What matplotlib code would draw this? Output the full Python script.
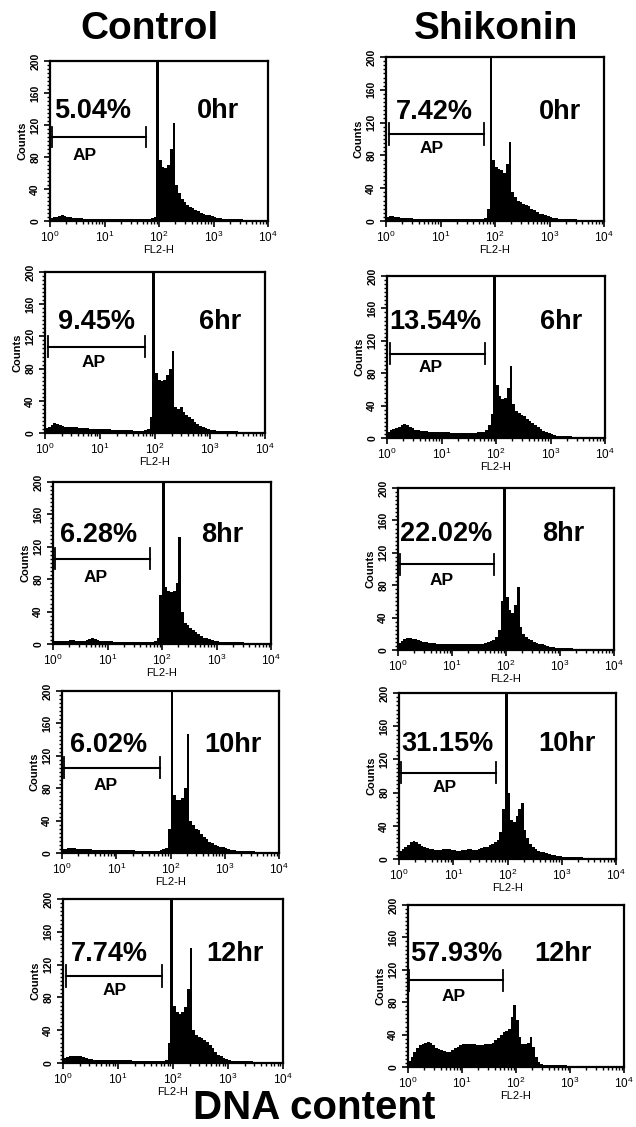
import numpy as np
import matplotlib
matplotlib.use("Agg")
import matplotlib.pyplot as plt
from matplotlib.ticker import MultipleLocator, FixedLocator, NullFormatter

plt.rcParams['font.family'] = ['Liberation Sans', 'DejaVu Sans']
plt.rcParams['mathtext.default'] = 'regular'

# ---------------- data ----------------
column_titles = ["Control", "Shikonin"]
time_labels = ["0hr", "6hr", "8hr", "10hr", "12hr"]
control_pct = ["5.04%", "9.45%", "6.28%", "6.02%", "7.74%"]
shikonin_pct = ["7.42%", "13.54%", "22.02%", "31.15%", "57.93%"]

# histogram channels: 80 bins, 0.05 decade each, from 10^0 to 10^4 (counts per bin)
ctrl_0hr = [4,5,5,6,7,6,5,5,4,4,4,4,3,3,3,3,3,3,3,3,
            3,3,3,3,3,3,3,3,3,3,3,3,3,3,3,3,3,4,5,250,
            76,68,66,70,90,122,45,35,28,24,20,18,16,14,12,10,9,8,7,6,
            5,4,4,3,3,3,2,2,2,2,2,1,1,1,1,1,1,1,1,1]
ctrl_6hr = [6,8,10,12,11,10,9,8,8,7,7,7,6,6,6,6,5,5,5,5,
            5,5,5,5,4,4,4,4,4,4,4,4,3,3,3,3,4,5,20,240,
            75,66,64,66,72,80,102,32,30,32,26,22,20,17,14,11,9,7,6,5,
            4,4,3,3,3,2,2,2,2,2,1,1,1,1,1,1,1,1,1,1]
ctrl_8hr = [4,4,4,4,4,4,5,5,4,4,4,4,5,6,7,6,5,4,4,4,
            4,4,3,3,3,3,3,3,3,3,3,3,3,3,3,3,3,4,8,60,
            235,70,66,64,66,75,132,40,26,24,20,17,15,12,10,8,7,6,5,4,
            4,3,3,3,3,2,2,2,2,2,1,1,1,1,1,1,1,1,1,1]
ctrl_10hr = [5,5,6,6,6,5,5,5,5,5,5,4,4,4,4,4,4,4,4,4,
             4,4,4,4,4,4,4,3,3,3,3,3,3,3,3,3,4,5,6,30,
             240,72,66,65,68,80,147,40,34,30,28,24,20,17,14,12,10,9,8,7,
             6,5,4,4,3,3,3,2,2,2,2,1,1,1,1,1,1,1,1,1]
ctrl_12hr = [6,7,8,9,9,9,8,7,6,5,5,4,4,4,4,4,4,4,4,4,
             4,4,4,4,4,3,3,3,3,3,3,3,3,3,3,3,3,4,25,240,
             70,62,60,62,68,90,140,40,34,32,30,28,26,22,18,14,10,8,6,5,
             4,3,3,3,2,2,2,2,2,1,1,1,1,1,1,1,1,1,1,1]

shik_0hr = [5,6,6,5,5,4,4,4,4,4,3,3,3,3,3,3,3,3,3,3,
            3,3,3,3,3,3,3,3,3,3,3,3,3,3,3,3,4,15,240,75,
            66,64,62,58,70,96,35,29,25,23,21,20,18,15,13,11,9,8,7,6,
            5,4,4,3,3,3,2,2,2,2,1,1,1,1,1,1,1,1,1,1]
shik_6hr = [8,10,11,12,14,16,17,16,14,12,10,10,9,9,9,8,8,8,7,7,
            7,7,7,6,6,6,6,6,6,6,6,6,6,7,7,8,10,16,30,240,
            65,52,48,50,62,89,42,33,31,29,27,24,21,18,16,13,11,9,8,6,
            5,4,3,3,2,2,2,2,1,1,1,1,1,1,1,1,1,1,1,1]
shik_8hr = [9,11,13,15,15,14,13,12,11,10,10,9,9,9,8,8,8,8,8,8,
            8,8,8,8,8,8,8,8,8,8,8,8,9,10,11,12,16,25,60,230,
            65,50,46,55,78,28,20,16,14,12,10,9,8,7,6,5,4,4,3,3,
            3,2,2,2,2,1,1,1,1,1,1,1,1,1,1,1,1,1,1,1]
shik_10hr = [10,12,14,17,20,22,21,18,16,14,13,12,12,11,11,11,12,12,12,11,
             11,10,10,11,11,12,12,11,11,12,13,14,15,17,18,20,23,32,60,240,
             80,47,45,52,60,67,35,25,18,15,12,10,9,8,7,6,5,5,4,4,
             3,3,3,2,2,2,2,2,1,1,1,1,1,1,1,1,1,1,1,1]
shik_12hr = [8,12,18,24,27,29,30,31,30,27,24,22,21,20,19,19,21,23,25,27,
             28,28,29,29,28,27,27,27,28,29,29,30,33,36,39,43,45,47,62,76,
             58,37,29,29,30,37,25,12,6,4,3,3,3,2,2,2,2,2,2,1,
             1,1,1,1,1,1,1,1,1,1,0,0,0,0,0,0,0,0,0,0]

control_hists = [ctrl_0hr, ctrl_6hr, ctrl_8hr, ctrl_10hr, ctrl_12hr]
shikonin_hists = [shik_0hr, shik_6hr, shik_8hr, shik_10hr, shik_12hr]
y_ticks = [0, 40, 80, 120, 160, 200]
x_decades = [0, 1, 2, 3, 4]

# ---------------- layout (pixels) ----------------
W, H = 636, 1127
fig = plt.figure(figsize=(W / 100, H / 100), dpi=100)
fig.patch.set_facecolor('white')

# (left, right, top, bottom) in pixels
boxes = [
    [(50, 268, 61, 221), (386, 604, 57, 221)],
    [(45, 265, 272, 433), (387, 605, 276, 438)],
    [(53, 271, 482, 644), (398, 614, 488, 650)],
    [(62, 279, 691, 853), (399, 616, 693, 859)],
    [(63, 283, 899, 1063), (408, 624, 905, 1067)],
]
# label placement (log10 x, y count)
pct_pos = [[(0.79, 137), (0.89, 133)], [(0.94, 138), (0.89, 143)],
           [(0.84, 134), (0.90, 143)], [(0.86, 133), (0.90, 139)],
           [(0.85, 133), (0.89, 140)]]
time_pos = [[(3.08, 137), (3.19, 133)], [(3.18, 138), (3.19, 143)],
            [(3.10, 134), (3.06, 143)], [(3.15, 133), (3.09, 139)],
            [(3.13, 133), (2.87, 140)]]
bar_pos = [[(0.03, 1.77, 105), (0.06, 1.79, 106)], [(0.06, 1.81, 107), (0.05, 1.80, 104)],
           [(0.03, 1.78, 105), (0.03, 1.78, 106)], [(0.03, 1.80, 105), (0.04, 1.78, 104)],
           [(0.06, 1.80, 106), (0.02, 1.76, 107)]]
ap_pos = [[(0.64, 82), (0.83, 88)], [(0.88, 87), (0.80, 87)],
          [(0.78, 82), (0.80, 86)], [(0.80, 83), (0.84, 86)],
          [(0.94, 89), (0.85, 87)]]

edges = np.linspace(0, 4, 81)

for r in range(5):
    for c in range(2):
        l, rr, t, b = boxes[r][c]
        ax = fig.add_axes([l / W, 1 - b / H, (rr - l) / W, (b - t) / H])
        counts = (control_hists if c == 0 else shikonin_hists)[r]
        ax.stairs(counts, 10 ** edges, fill=True, color='black', linewidth=0)
        ax.set_xscale('log')
        ax.set_xlim(1, 1e4)
        ax.set_ylim(0, 200)
        for s in ax.spines.values():
            s.set_linewidth(1.6)
        ax.set_yticks(y_ticks)
        ax.set_yticklabels([str(v) for v in y_ticks], rotation=90, va='center',
                           fontsize=7.5, fontweight='bold')
        ax.yaxis.set_minor_locator(MultipleLocator(5))
        ax.set_xticks([10 ** d for d in x_decades])
        ax.set_xticklabels([r'$10^{%d}$' % d for d in x_decades], fontsize=8.5)
        ax.xaxis.set_minor_locator(FixedLocator(
            [m * 10 ** d for d in range(4) for m in range(2, 10)]))
        ax.xaxis.set_minor_formatter(NullFormatter())
        ax.tick_params(which='major', direction='out', length=4, width=1.2, pad=2)
        ax.tick_params(which='minor', direction='out', length=2.5, width=1.0)
        ax.tick_params(axis='y', which='major', pad=3)
        ax.set_ylabel('Counts', fontsize=8, fontweight='bold', labelpad=2)
        ax.set_xlabel('FL2-H', fontsize=8, labelpad=0)

        pct = (control_pct if c == 0 else shikonin_pct)[r]
        px, py = pct_pos[r][c]
        ax.text(10 ** px, py, pct, fontsize=19.5, fontweight='bold',
                ha='center', va='center')
        tx, ty = time_pos[r][c]
        ax.text(10 ** tx, ty, time_labels[r], fontsize=19.5, fontweight='bold',
                ha='center', va='center')
        x0, x1, yb = bar_pos[r][c]
        ax.plot([10 ** x0, 10 ** x1], [yb, yb], color='black', lw=1.5)
        for xe in (x0, x1):
            ax.plot([10 ** xe, 10 ** xe], [yb - 13, yb + 13], color='black', lw=1.3)
        axp, ayp = ap_pos[r][c]
        ax.text(10 ** axp, ayp, 'AP', fontsize=12.5, fontweight='bold',
                ha='center', va='center')

fig.text(149 / W, 1 - 29 / H, column_titles[0], fontsize=28, fontweight='bold',
         ha='center', va='center')
fig.text(496 / W, 1 - 29 / H, column_titles[1], fontsize=28, fontweight='bold',
         ha='center', va='center')
fig.text(314 / W, 1 - 1108 / H, 'DNA content', fontsize=29, fontweight='bold',
         ha='center', va='center')

fig.savefig('out.png', dpi=100, facecolor='white')
